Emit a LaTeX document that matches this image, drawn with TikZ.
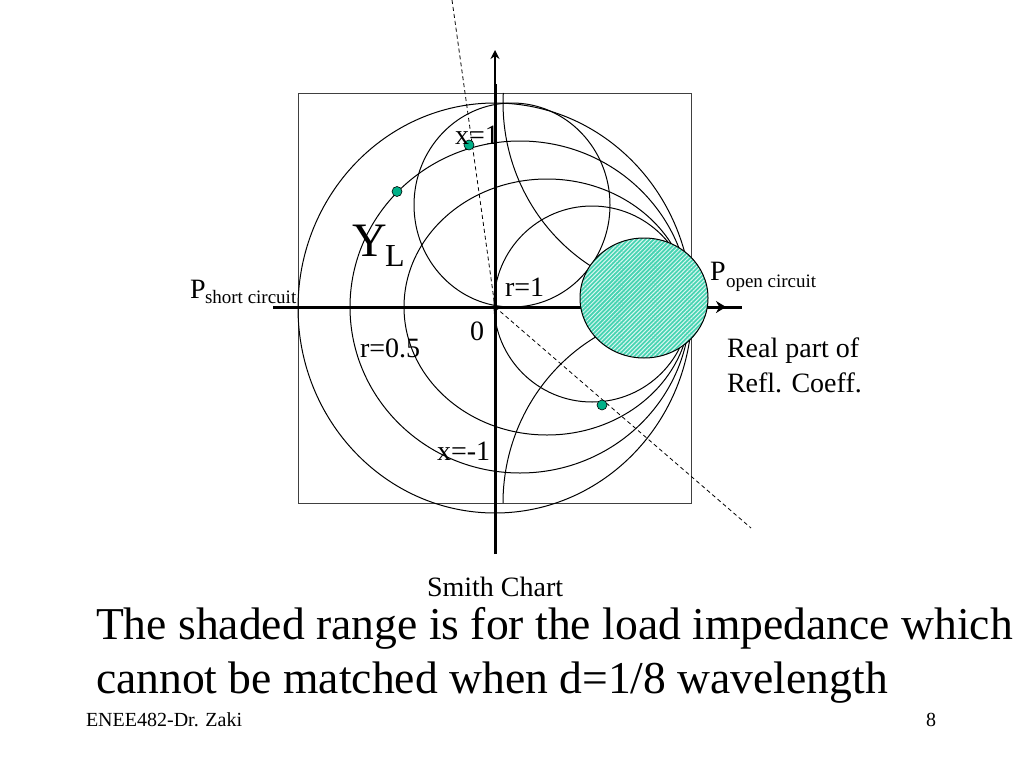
\documentclass[tikz,border=0pt]{standalone}
\usepackage{fontspec}
\setmainfont{Liberation Serif}
\usetikzlibrary{arrows.meta,patterns.meta}
\definecolor{dotgreen}{RGB}{0,176,136}
\definecolor{shadegreen}{RGB}{70,212,178}
\begin{document}
\begin{tikzpicture}[x=1pt,y=-1pt,
		  every node/.style={inner sep=0pt,outer sep=0pt,anchor=base west},
		  curva/.style={draw=black,line width=1pt},
		  eixo/.style={draw=black,line width=3pt},
		  tracejada/.style={draw=black,line width=.8pt,dash pattern=on 4pt off 3pt},
		  ponto/.style={draw=black,fill=dotgreen,circle,minimum size=10pt,line width=.6pt,anchor=center},
		  rotulo/.style={font=\fontsize{28}{32}\selectfont},
		  indice/.style={font=\fontsize{19}{22}\selectfont},
		  grande/.style={font=\fontsize{45.6}{54}\selectfont},
		  rodape/.style={font=\fontsize{20}{24}\selectfont}
		]
		\useasboundingbox (0,0) rectangle (1024,768);

		% quadro
		\draw[line width=1pt,draw=black!75] (298,93) rectangle (691,503);

		% circulos
		\draw[curva] (495,308) ellipse [x radius=197, y radius=205];
		\draw[curva] (520,307) ellipse [x radius=170, y radius=166];
		\draw[curva] (547,307) ellipse [x radius=143, y radius=128];
		\draw[curva] (592,304) ellipse [x radius=98, y radius=98];
		\draw[curva] (512,205) ellipse [x radius=98, y radius=102];

		% arcos x=1, x=-1
		\draw[curva] (503.3,93) arc [start angle=183, end angle=120, x radius=189, y radius=193];
		\draw[curva] (503,503) arc [start angle=180, end angle=240, x radius=189, y radius=193];

		% eixos
		\coordinate (Oeste) at (273,307);
		\coordinate (Seta) at (726,307);
		\coordinate (Leste) at (742,307);
		\coordinate (Sul) at (495,554);
		\coordinate (Quebra) at (495,84);
		\coordinate (Norte) at (495,50);
		\coordinate (O) at (495,307);
		\coordinate (Alto) at (452,0);
		\coordinate (Fim) at (751,528);
		\draw[eixo] (Oeste) -- (Leste);
		\draw[eixo,-{Stealth[length=10pt,width=12pt]}] (Oeste) -- (Seta);
		\draw[eixo] (Sul) -- (Quebra);
		\draw[line width=1.8pt,-{Stealth[length=9pt,width=9pt]}] (Quebra) -- (Norte);

		% retas
		\draw[tracejada] (Alto) -- (O);
		\draw[tracejada] (O) -- (Fim);

		% regiao
		\path[preaction={fill=shadegreen},pattern={Lines[angle=45,distance=3pt,line width=1pt]},pattern color=white!80!shadegreen,draw=black,line width=1pt]
		  (644,298) ellipse [x radius=64, y radius=60];

		% pontos
		\node[ponto] (p1) at (397,191.5) {};
		\node[ponto] (p2) at (469,145) {};
		\node[ponto] (p3) at (602,405) {};

		% textos
		\node[rotulo] (x1) at (455,144) {x=1};
		\node[rotulo] (xm1) at (437,460) {x=-1};
		\node[rotulo] (r1) at (505,296) {r=1};
		\node[rotulo] (r05) at (360,357) {r=0.5};
		\node[rotulo] (zero) at (470,340) {0};
		\node[font=\fontsize{48}{56}\selectfont] (YL) at (352,256) {Y};
		\node[font=\fontsize{32}{38}\selectfont] (L) at (385,266) {L};
		\node[rotulo] (Ps) at (190,298) {P};
		\node[indice] (Pss) at (205,303) {short circuit};
		\node[rotulo] (Po) at (710,280) {P};
		\node[indice] (Pos) at (726,287) {open circuit};
		\node[rotulo] (re1) at (727,357) {Real part of};
		\node[rotulo] (re2) at (727,392) {Refl. Coeff.};
		\node[rotulo] (smith) at (427,596) {Smith Chart};
		\node[grande] (linha1) at (96,639) {The shaded range is for the load impedance which};
		\node[grande] (linha2) at (96,693) {cannot be matched when d=1/8 wavelength};
		\node[rodape] (rod1) at (86,726) {ENEE482-Dr. Zaki};
		\node[rodape] (rod2) at (926,726) {8};

		\end{tikzpicture}
\end{document}
